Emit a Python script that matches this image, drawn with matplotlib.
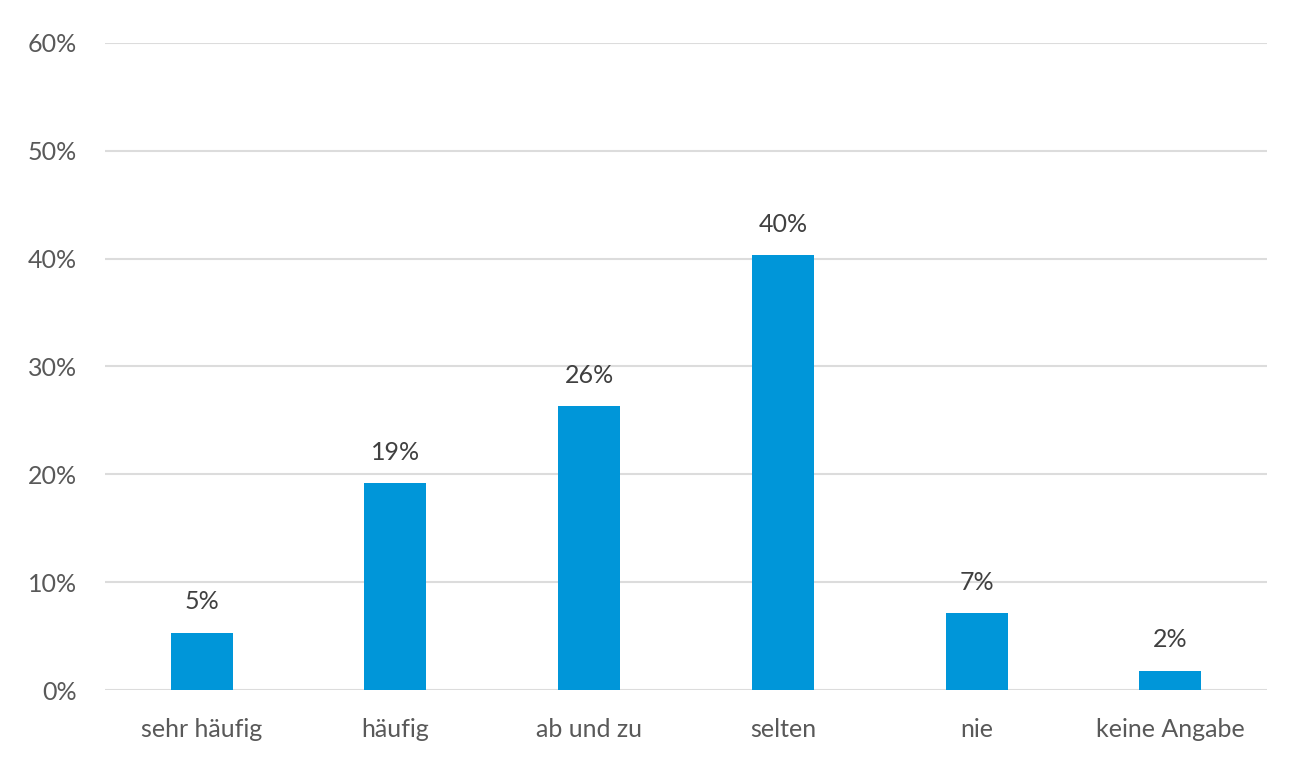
import matplotlib
matplotlib.use("Agg")
import matplotlib.pyplot as plt
from matplotlib.ticker import FuncFormatter, MultipleLocator

categories = ["sehr häufig", "häufig", "ab und zu", "selten", "nie", "keine Angabe"]
values = [0.053, 0.192, 0.263, 0.403, 0.071, 0.018]
labels = ["5%", "19%", "26%", "40%", "7%", "2%"]

plt.rcParams['font.family'] = ['Lato', 'DejaVu Sans']

fig = plt.figure(figsize=(12.99, 7.58), dpi=100)
ax = fig.add_axes([0.0808, 0.0897, 0.8946, 0.8536])

x = list(range(len(categories)))
bars = ax.bar(x, values, width=0.32, color="#0096D9", zorder=3)

for xi, v, lab in zip(x, values, labels):
    ax.annotate(lab, (xi, v), xytext=(0, 14), textcoords="offset points",
                ha="center", va="bottom", fontsize=18, color="#404040")

ax.set_xlim(-0.5, len(categories) - 0.5)
ax.set_ylim(0, 0.6)
ax.yaxis.set_major_locator(MultipleLocator(0.1))
ax.yaxis.set_major_formatter(FuncFormatter(lambda v, p: f"{round(v*100)}%"))
ax.set_xticks(x)
ax.set_xticklabels(categories)
ax.grid(axis="y", color="#dcdcdc", linewidth=1.5, zorder=0)
for s in ax.spines.values():
    s.set_visible(False)
ax.tick_params(axis="both", length=0, labelsize=18, colors="#595959")
ax.tick_params(axis="x", pad=20)
ax.tick_params(axis="y", pad=20)

fig.savefig("out.png", dpi=100)
